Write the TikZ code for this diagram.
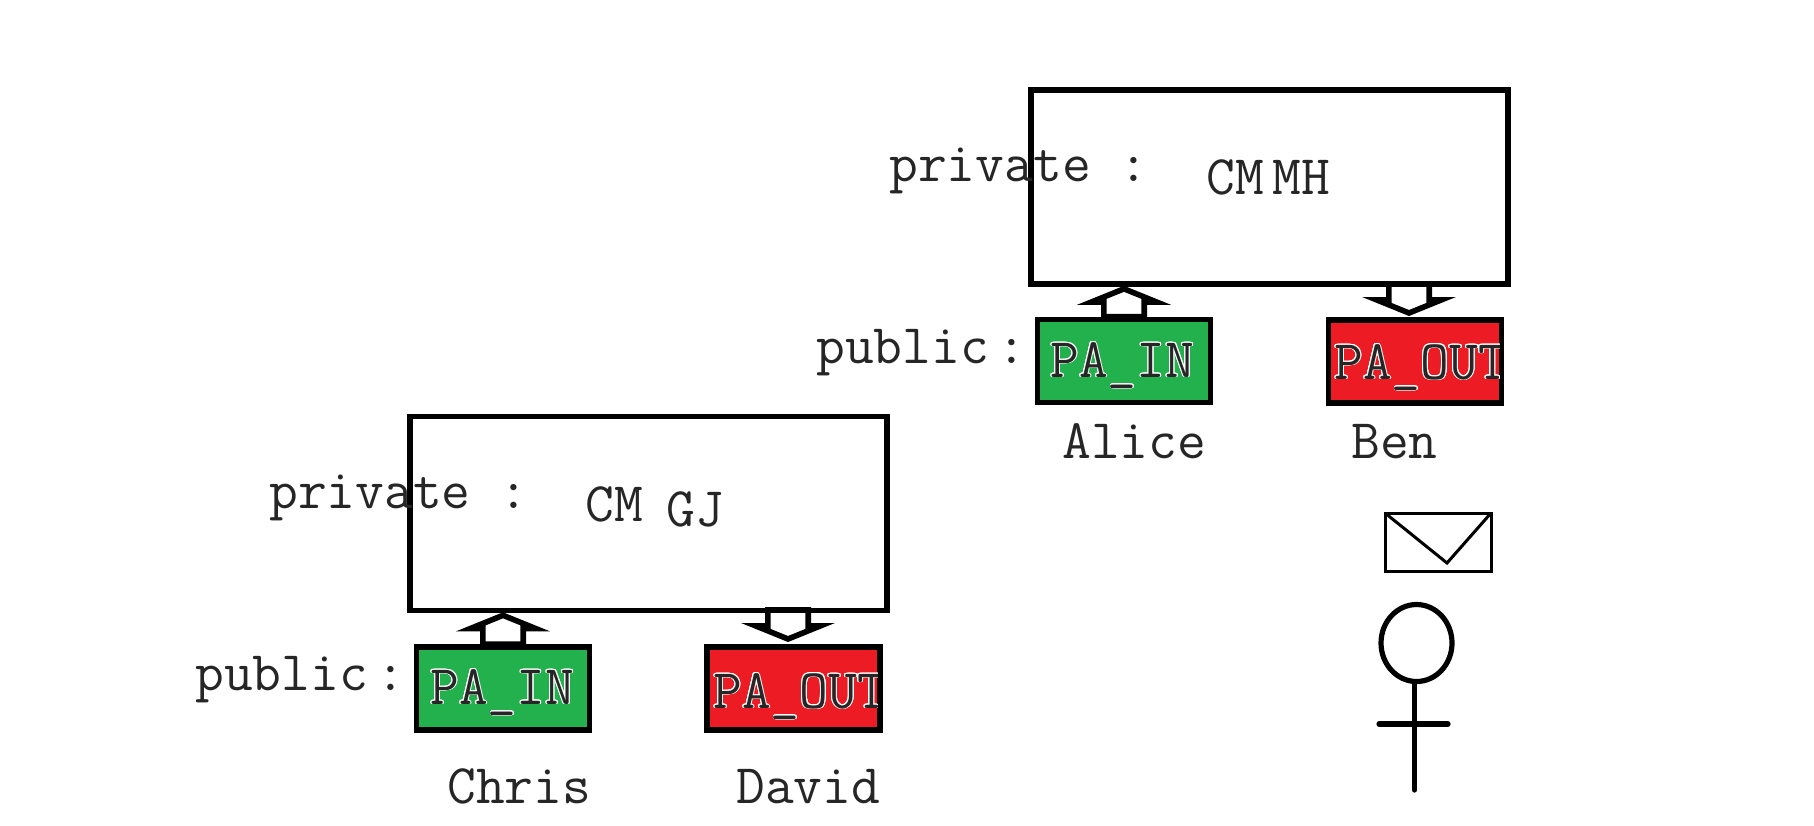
\documentclass[tikz,border=0pt]{standalone}
\usepackage{xcolor}
\usepackage[copies]{contour}
\usetikzlibrary{calc}
\definecolor{paGreen}{HTML}{22B14C}
\definecolor{paRed}{HTML}{ED1C24}
\def\pxu{.02cm}
\contourlength{.5pt}
\tikzset{
  every node/.style={inner sep=0pt},
  lbl/.style={anchor=base west,font=\fontsize{31.8}{36}\selectfont\ttfamily,text=black!85},
  panel/.style={draw=black,line width=5.6*\pxu,minimum width=477*\pxu,minimum height=194*\pxu},
  portbox/.style={draw=black,line width=5.6*\pxu,minimum width=173*\pxu,minimum height=83*\pxu},
  blockline/.style={draw=black,fill=white,line width=5.6*\pxu,line join=miter,miter limit=6},
}
% block arrow between two coordinates
\newcommand{\blockarrow}[2]{
  \coordinate (h) at ($(#2)!7.5pt!(#1)$);
  \draw[blockline] ($(#1)!11.5pt!90:(#2)$) -- ($(h)!11.5pt!90:(#2)$) -- ($(h)!18.5pt!90:(#2)$) -- (#2)
    -- ($(h)!18.5pt!-90:(#2)$) -- ($(h)!11.5pt!-90:(#2)$) -- ($(#1)!11.5pt!-90:(#2)$) -- cycle;
}
\begin{document}
\begin{tikzpicture}[x=.02cm,y=-.02cm]
\useasboundingbox (0,0) rectangle (1814,825);
% upper pair
\node[panel] (boxA) at (1269.5,187) {};
\node[portbox,fill=paGreen] (inA) at (1124,361) {};
\node[portbox,fill=paRed] (outA) at (1415,361.5) {};
\coordinate (inAtip) at ($(inA.north |- boxA.south)+(0,2)$);
\coordinate (outAtop) at (1409,284);
\coordinate (outAtip) at (1409,313);
\blockarrow{inA.north}{inAtip}
\blockarrow{outAtop}{outAtip}
\node[lbl] (privA) at (889,181) {private :};
\node[lbl] (cmA) at (1206,194) {CM};
\node[lbl] (mhA) at (1272,194) {MH};
\node[lbl] (pubA) at (816,363) {public};
\node[lbl] (colA) at (997,363) {:};
\node[lbl] (paInA) at (1050,377) {\contour{white}{PA\_IN}};
\begin{scope}
\clip ($(outA.north west)+(5,5)$) rectangle ($(outA.south east)+(-5,-5)$);
\node[lbl] (paOutA) at (1334,379) {\contour{white}{PA\_OUT}};
\end{scope}
\node[lbl] (alice) at (1062,458) {Alice};
\node[lbl] (ben) at (1351,458) {Ben};
% lower pair
\node[panel] (boxB) at (648.5,513.5) {};
\node[portbox,fill=paGreen] (inB) at (503,688.5) {};
\node[portbox,fill=paRed] (outB) at (793.5,688.5) {};
\coordinate (inBtip) at ($(inB.north |- boxB.south)+(0,2)$);
\coordinate (outBtop) at (788,610);
\coordinate (outBtip) at (788,639);
\blockarrow{inB.north}{inBtip}
\blockarrow{outBtop}{outBtip}
\node[lbl] (privB) at (269,508) {private :};
\node[lbl] (cmB) at (585,521) {CM};
\node[lbl] (gj) at (666,526) {GJ};
\node[lbl] (pubB) at (195,690) {public};
\node[lbl] (colB) at (376,690) {:};
\node[lbl] (paInB) at (430,704) {\contour{white}{PA\_IN}};
\begin{scope}
\clip ($(outB.north west)+(5,5)$) rectangle ($(outB.south east)+(-5,-5)$);
\node[lbl] (paOutB) at (713,708) {\contour{white}{PA\_OUT}};
\end{scope}
\node[lbl] (chris) at (447,803) {Chris};
\node[lbl] (david) at (736,803) {David};
% envelope
\draw[line width=3*\pxu] (1385,513) rectangle (1491,571);
\draw[line width=3*\pxu] (1385,513) -- (1447,563) -- (1491,513);
% figure
\draw[line width=5.2*\pxu] (1416.5,643) ellipse (35.5 and 38.5);
\draw[line width=5.2*\pxu,line cap=round] (1414.5,683) -- (1414.5,790);
\draw[line width=5.2*\pxu,line cap=round] (1379,724) -- (1448,724);
\end{tikzpicture}
\end{document}
